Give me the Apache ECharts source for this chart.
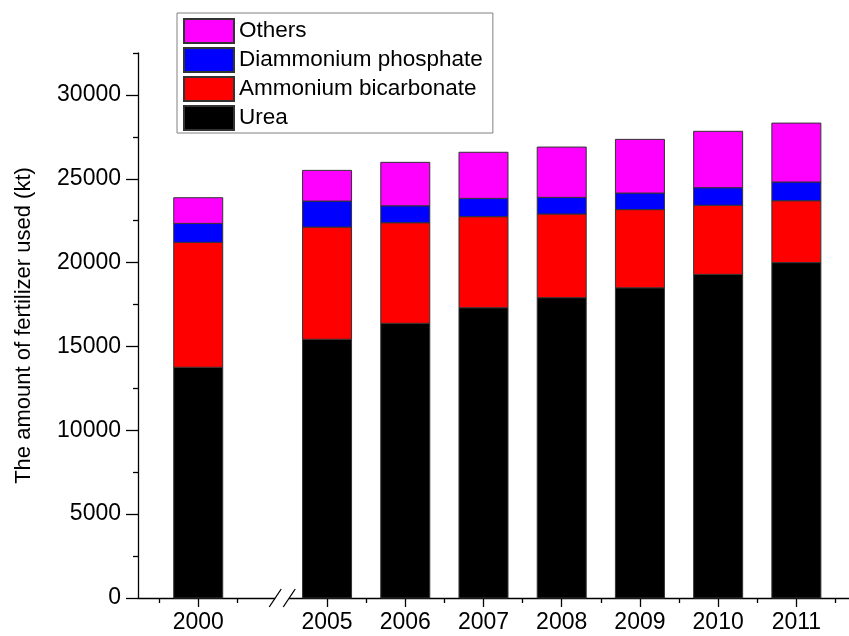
<!DOCTYPE html>
<html>
<head>
<meta charset="utf-8">
<script src="https://cdn.jsdelivr.net/npm/echarts@6/dist/echarts.min.js"></script>
<style>
  html, body { margin: 0; padding: 0; background: #ffffff; }
  #chart { width: 849px; height: 636px; }
</style>
</head>
<body>
<div id="chart"></div>
<script>
// Fertilizer use by type (kt)
const years = ['2000', '2005', '2006', '2007', '2008', '2009', '2010', '2011'];
const urea = [13760, 15430, 16380, 17310, 17910, 18500, 19300, 20000];
const ammoniumBicarbonate = [7450, 6690, 6000, 5430, 4990, 4660, 4120, 3690];
const diammoniumPhosphate = [1130, 1550, 1010, 1090, 990, 990, 1050, 1120];
const others = [1530, 1830, 2590, 2750, 3000, 3200, 3360, 3510];

const yMajorTicks = [0, 5000, 10000, 15000, 20000, 25000, 30000];
const yMinorTicks = [2500, 7500, 12500, 17500, 22500, 27500, 32500];

// Broken x axis: 2000 stands alone, then the 2005-2011 run follows after a gap.
const GAP = 1.647;       // axis units between 2000 and 2005
const BREAK_AT = 1.074;  // where the "//" break marks sit
const xPos = years.map((y, i) => (i === 0 ? 0 : GAP + (i - 1)));
const xMinor = [-0.5, 0.5].concat(years.slice(1).map((y, i) => GAP + i + 0.5));

const FONT = "'Liberation Sans', Arial, Helvetica, sans-serif";
const BAR_WIDTH = 49;

const seriesDefs = [
  { name: 'Urea', data: urea, color: '#000000' },
  { name: 'Ammonium bicarbonate', data: ammoniumBicarbonate, color: '#ff0000' },
  { name: 'Diammonium phosphate', data: diammoniumPhosphate, color: '#0000ff' },
  { name: 'Others', data: others, color: '#ff00ff' }
];

// Stack the layers: each segment runs from the running total to running total + value
const running = years.map(() => 0);
const stackedSeries = seriesDefs.map(s => {
  const rows = s.data.map((v, i) => {
    const base = running[i];
    running[i] = base + v;
    return [xPos[i], base, base + v];
  });
  return {
    type: 'custom',
    name: s.name,
    xAxisIndex: 0,
    yAxisIndex: 0,
    data: rows,
    encode: { x: 0, y: [1, 2] },
    itemStyle: { color: s.color, borderColor: '#333333', borderWidth: 1 },
    emphasis: { disabled: true },
    renderItem: (params, api) => {
      const x = api.value(0);
      const bottom = api.coord([x, api.value(1)]);
      const top = api.coord([x, api.value(2)]);
      return {
        type: 'rect',
        shape: { x: bottom[0] - BAR_WIDTH / 2, y: top[1], width: BAR_WIDTH, height: bottom[1] - top[1] },
        style: { fill: s.color, stroke: '#333333', lineWidth: 1 }
      };
    }
  };
});

function yearLabel(v) {
  const i = xPos.findIndex(p => Math.abs(p - v) < 1e-6);
  return i >= 0 ? years[i] : '';
}

const chart = echarts.init(document.getElementById('chart'), null, { renderer: 'canvas' });

const X_MIN = -0.77, X_MAX = 8.32;

chart.setOption({
  animation: false,
  backgroundColor: '#ffffff',
  textStyle: { fontFamily: FONT },
  grid: { left: 138, right: 0, top: 53, bottom: 38, containLabel: false },
  legend: {
    left: 177,
    top: 13,
    orient: 'vertical',
    data: ['Others', 'Diammonium phosphate', 'Ammonium bicarbonate', 'Urea'],
    itemWidth: 50,
    itemHeight: 24,
    itemGap: 3,
    padding: [5, 10, 2, 6],
    borderColor: '#808080',
    borderWidth: 1,
    backgroundColor: '#ffffff',
    selectedMode: false,
    icon: 'rect',
    textStyle: { fontSize: 22.5, color: '#000000', fontFamily: FONT }
  },
  xAxis: [
    {
      type: 'value',
      min: X_MIN,
      max: X_MAX,
      position: 'bottom',
      splitLine: { show: false },
      axisLine: { show: true, onZero: false, lineStyle: { color: '#000000', width: 1.3 } },
      axisTick: { show: true, customValues: xPos, length: 9, lineStyle: { color: '#000000', width: 1.3 } },
      axisLabel: {
        customValues: xPos,
        formatter: yearLabel,
        fontSize: 23,
        margin: 13,
        color: '#000000',
        fontFamily: FONT
      }
    },
    {
      type: 'value',
      min: X_MIN,
      max: X_MAX,
      position: 'bottom',
      splitLine: { show: false },
      axisLine: { show: false, onZero: false },
      axisTick: { show: true, customValues: xMinor, length: 5, lineStyle: { color: '#000000', width: 1.3 } },
      axisLabel: { show: false }
    }
  ],
  yAxis: [
    {
      type: 'value',
      min: 0,
      max: 32500,
      position: 'left',
      splitLine: { show: false },
      axisLine: { show: true, onZero: false, lineStyle: { color: '#000000', width: 1.3 } },
      axisTick: { show: true, customValues: yMajorTicks, length: 12, lineStyle: { color: '#000000', width: 1.3 } },
      axisLabel: {
        customValues: yMajorTicks,
        formatter: v => String(v),
        fontSize: 23,
        margin: 17,
        color: '#000000',
        fontFamily: FONT
      },
      name: 'The amount of fertilizer used (kt)',
      nameLocation: 'middle',
      nameRotate: 90,
      nameGap: 103,
      nameTextStyle: { fontSize: 22, color: '#000000', fontFamily: FONT }
    },
    {
      type: 'value',
      min: 0,
      max: 32500,
      position: 'left',
      splitLine: { show: false },
      axisLine: { show: false, onZero: false },
      axisTick: { show: true, customValues: yMinorTicks, length: 5, lineStyle: { color: '#000000', width: 1.3 } },
      axisLabel: { show: false }
    }
  ],
  series: stackedSeries
});

// Axis break marks drawn at the scale position of the gap
const bx = chart.convertToPixel({ xAxisIndex: 0 }, BREAK_AT);
const by = chart.convertToPixel({ yAxisIndex: 0 }, 0);
chart.setOption({
  graphic: [
    { type: 'rect', z: 100, shape: { x: bx - 7, y: by - 3, width: 14, height: 6 }, style: { fill: '#ffffff' } },
    { type: 'line', z: 101, shape: { x1: bx - 13, y1: by + 9, x2: bx - 1, y2: by - 9 }, style: { stroke: '#000000', lineWidth: 1.3 } },
    { type: 'line', z: 101, shape: { x1: bx + 1, y1: by + 9, x2: bx + 13, y2: by - 9 }, style: { stroke: '#000000', lineWidth: 1.3 } }
  ]
});
</script>
</body>
</html>
